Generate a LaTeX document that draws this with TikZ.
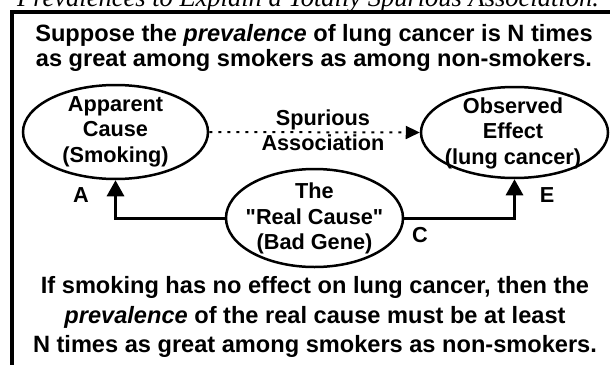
\documentclass[tikz,border=0pt]{standalone}
\usepackage{fontspec}
\newfontfamily\arial{Liberation Sans}
\newfontfamily\titlefont{Liberation Serif}
\usetikzlibrary{shapes.geometric,arrows.meta}
\begin{document}
\begin{tikzpicture}[x=1pt,y=-1pt,
 big/.style={font=\arial\bfseries\fontsize{23.6}{25.5}\selectfont, align=center, inner sep=0pt},
 bot/.style={font=\arial\bfseries\fontsize{23.6}{29.5}\selectfont, align=center, inner sep=0pt},
 small/.style={font=\arial\bfseries\fontsize{21.7}{25.5}\selectfont, align=center, inner sep=0pt},
 oval/.style={ellipse, draw, line width=2.5pt, inner sep=0pt},
 conn/.style={line width=3pt, -{Triangle[length=16pt,width=17pt]}},
 dotconn/.style={line width=2pt, dash pattern=on 3pt off 6pt, -{Triangle[length=14pt,width=13pt]}}]
\useasboundingbox (0,0) rectangle (610,364);
\fill[white] (0,0) rectangle (610,364);
\node[font=\titlefont\itshape\fontsize{26.5}{30}\selectfont, anchor=base, inner sep=0pt] (title) at (308,6) {Prevalences to Explain a Totally Spurious Association.};
\draw[line width=4pt] (12,12) rectangle (640,390);
\node[big] (top) at (314,47.7) {Suppose the \textit{prevalence} of lung cancer is N times\\as great among smokers as among non-smokers.};
\node[oval, minimum width=185pt, minimum height=94pt] (smoke) at (115.5,132) {};
\node[small] (smoketext) at (115.5,131.4) {Apparent\\Cause\\(Smoking)};
\node[oval, minimum width=187pt, minimum height=91pt] (effect) at (514.5,132.5) {};
\node[small] (effecttext) at (513,133) {Observed\\Effect\\(lung cancer)};
\node[oval, minimum width=177pt, minimum height=98pt] (gene) at (314.5,218) {};
\node[small] (genetext) at (314.5,218.4) {The\\"Real Cause"\\(Bad Gene)};
\node[small] (spur) at (323,130) {Spurious\\Association};
\draw[dotconn] (smoke.east) -- (effect.west);
\draw[conn] (gene.west) -| (smoke.south);
\draw[conn] (gene.east) -| (effect.south);
\node[small] (la) at (81,195) {A};
\node[small] (le) at (547,195) {E};
\node[small] (lc) at (420,235) {C};
\node[bot] (bottom) at (315,317.4) {If smoking has no effect on lung cancer, then the\\\textit{prevalence} of the real cause must be at least\\N times as great among smokers as non-smokers.};
\end{tikzpicture}
\end{document}
